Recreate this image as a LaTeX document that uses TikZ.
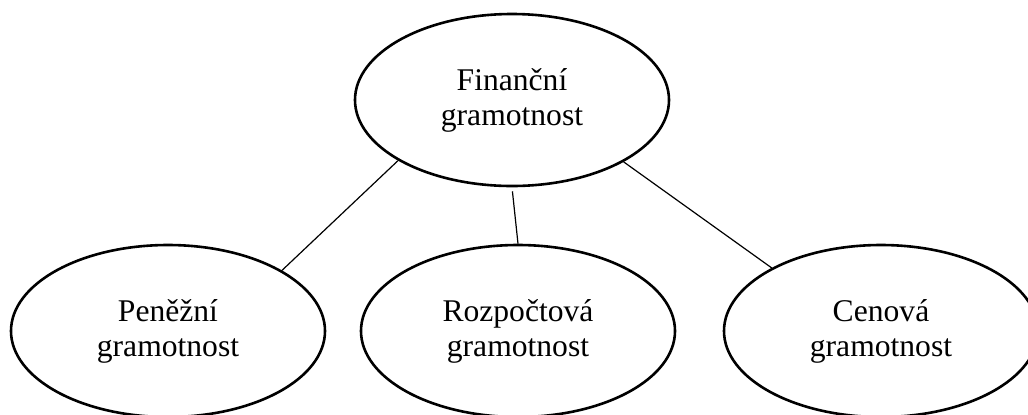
\documentclass[tikz,border=0pt]{standalone}
\usepackage{fontspec}
\setmainfont{Liberation Serif}
\usetikzlibrary{shapes.geometric}
\usetikzlibrary{positioning}

\begin{document}
\begin{tikzpicture}[x=1pt,y=1pt,-,auto,node distance=115.5pt,semithick]
 		\tikzstyle{bubble}=[draw, ellipse, line width=1.3pt, inner sep=0pt, minimum width=157pt, minimum height=86pt, align=center, font=\fontsize{15.8}{17.5}\selectfont]
 		\useasboundingbox (0,0) rectangle (514,-207);
			\node[bubble] (fin) at (256,-50) {Finanční\\gramotnost};
			\node[bubble] (rozp) [below of=fin, xshift=3pt] {Rozpočtová\\gramotnost};
			\node[bubble] (pen) [left of=rozp, node distance=175pt] {Peněžní\\gramotnost};
			\node[bubble] (cen) [right of=rozp, node distance=181.5pt] {Cenová\\gramotnost};

			\draw (fin.208) -- (pen.28);
			\draw[shorten <=2pt] (fin.south) -- (rozp.north);
			\draw (fin.331) -- (cen.150);
 	\end{tikzpicture}
\end{document}
